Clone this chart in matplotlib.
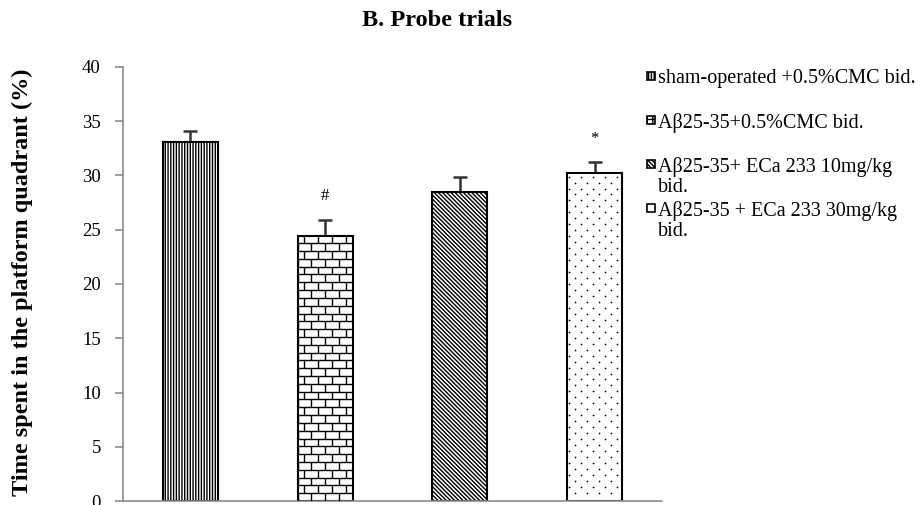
import numpy as np
import matplotlib
matplotlib.use("Agg")
import matplotlib.pyplot as plt
from matplotlib.patches import Rectangle
from matplotlib.collections import LineCollection

plt.rcParams['font.family'] = ['Liberation Serif', 'DejaVu Serif']
plt.rcParams['hatch.linewidth'] = 1.0

# dati
groups = ['sham-operated +0.5%CMC bid.',
          'A\u03b225-35+0.5%CMC bid.',
          'A\u03b225-35+ ECa 233 10mg/kg\nbid.',
          'A\u03b225-35 + ECa 233 30mg/kg\nbid.']
means = [33.1, 24.4, 28.5, 30.2]
sem = [1.0, 1.5, 1.4, 1.0]
marks = ['', '#', '', '*']
hatches = ['||||||', None, '\\\\\\\\\\\\\\\\', None]
legend_hatches = ['||||||', '+++', '\\\\\\\\\\\\\\\\', '.']

fig = plt.figure(figsize=(9.23, 5.05), dpi=100)
ax = fig.add_axes([123/923, 4/505, (662-123)/923, (501-67)/505])

x = np.arange(len(means)) + 0.5
bars = ax.bar(x, means, width=0.41, color='white', edgecolor='black',
              linewidth=1.5, zorder=2)
for b, h in zip(bars, hatches):
    if h:
        b.set_hatch(h)

# mattoncini per la seconda barra (matplotlib non ha questo tratteggio)
r = bars[1]
x0, w, top = r.get_x(), r.get_width(), r.get_height()
rh = 0.72
bw = w / 4
segs = []
for i in range(int(top / rh) + 1):
    y = i * rh
    segs.append([(x0, y), (x0 + w, y)])
    off = 0 if i % 2 == 0 else bw / 2
    xs = x0 + off
    while xs < x0 + w:
        segs.append([(xs, y), (xs, y + rh)])
        xs += bw
lc = LineCollection(segs, colors='black', linewidths=1.0, zorder=3)
lc.set_clip_path(r)
ax.add_collection(lc)

# puntini radi per la quarta barra
r = bars[3]
x0, w, top = r.get_x(), r.get_width(), r.get_height()
dx = w / 4.6
dy = 0.55
px, py = [], []
for i in range(int(top / dy)):
    y = top - 0.3 - i * dy
    start = x0 + 0.04 * w + (0 if i % 2 == 0 else dx / 2)
    xs = start
    while xs < x0 + w * 0.97:
        px.append(xs)
        py.append(y)
        xs += dx
dots = ax.scatter(px, py, s=1.5, color='black', linewidths=0, zorder=3)
dots.set_clip_path(r)

ax.errorbar(x, means, yerr=[np.zeros(len(sem)), sem], fmt='none',
            ecolor='#333333', elinewidth=1.8, capsize=5, capthick=1.8, zorder=1)

for xi, m, s, t in zip(x, means, sem, marks):
    if t:
        ax.text(xi, m + s + 2.2, t, ha='center', va='center', fontsize=12)

ax.set_xlim(0, 4)
ax.set_ylim(0, 40)
ax.set_yticks(np.arange(0, 41, 5))
ax.set_xticks([])
for s in ['top', 'right']:
    ax.spines[s].set_visible(False)
for s in ['left', 'bottom']:
    ax.spines[s].set_color('#8c8c8c')
    ax.spines[s].set_linewidth(1.2)
ax.tick_params(axis='y', length=6, width=1.2, color='#8c8c8c', labelsize=13.5,
               pad=10)
ax.set_ylabel('Time spent in the platform quadrant (%)', fontsize=17.5,
              fontweight='bold')
ax.yaxis.set_label_coords((33 - 123) / 539, 0.503)

fig.text(437/923, 1 - 21/505, 'B. Probe trials', ha='center', va='center',
         fontsize=17.5, fontweight='bold')

# legenda disegnata a mano
leg_y = [76, 120, 164, 208]
for lab, hh, yy in zip(groups, legend_hatches, leg_y):
    sq = Rectangle((647/923, 1 - (yy + 4)/505), 8/923, 8/505,
                   transform=fig.transFigure, facecolor='white',
                   edgecolor='black', linewidth=1.2, hatch=hh)
    fig.add_artist(sq)
    fig.text(658/923, 1 - (yy - 7)/505, lab, ha='left', va='top',
             fontsize=14.5, linespacing=1.05)

fig.savefig('out.png', dpi=100)
